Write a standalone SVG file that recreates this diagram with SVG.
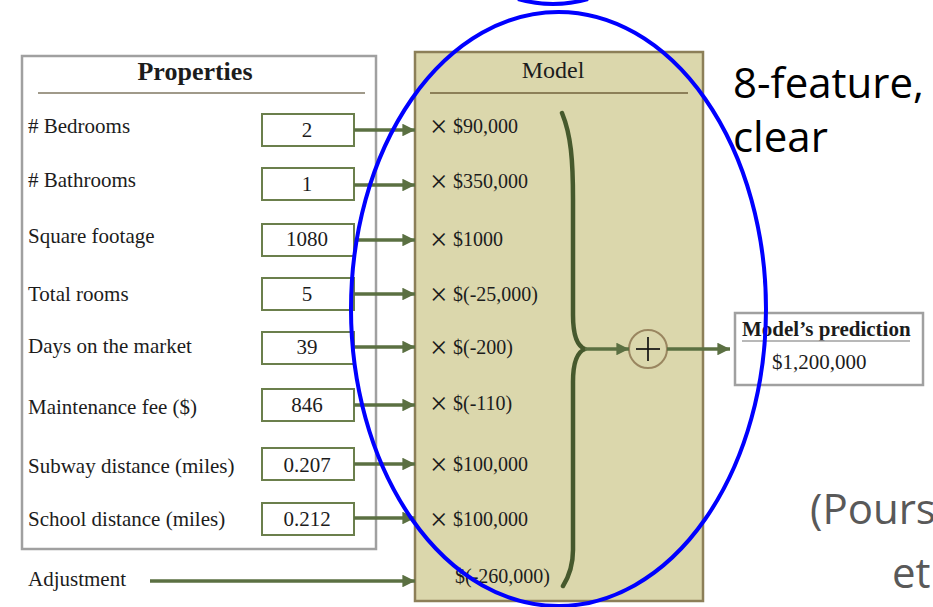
<svg xmlns="http://www.w3.org/2000/svg" width="933" height="607" viewBox="0 0 933 607">
  <style>
    .lbl { font-family: "Liberation Serif", "DejaVu Serif", serif; font-size: 21px; fill: #1c1c1c; }
    .val { font-family: "Liberation Serif", "DejaVu Serif", serif; font-size: 21px; fill: #1c1c1c; text-anchor: middle; }
    .mul { font-family: "Liberation Serif", "DejaVu Serif", serif; font-size: 20px; fill: #1c1c1c; }
    .x { font-size: 31px; }
    .ttl { font-family: "Liberation Serif", "DejaVu Serif", serif; font-size: 26px; font-weight: bold; fill: #1c1c1c; }
    .vbox { fill: #ffffff; stroke: #6b7f4c; stroke-width: 2; }
    .arr { stroke: #5b7042; stroke-width: 3.5; fill: none; marker-end: url(#ah); }
    .slide { font-family: "Open Sans", "Liberation Sans", sans-serif; font-size: 42px; }
  </style>
  <defs>
    <marker id="ah" viewBox="0 0 10 10" refX="10" refY="5" markerWidth="4" markerHeight="3.6" orient="auto" markerUnits="strokeWidth">
      <path d="M0,0 L10,5 L0,10 Z" fill="#5b7042"/>
    </marker>
  </defs>

  <rect width="933" height="607" fill="#ffffff"/>

  <!-- Input panel -->
  <g id="properties">
    <rect x="22" y="56" width="354" height="493" fill="#ffffff" stroke="#a0a0a0" stroke-width="2.5"/>
    <text class="ttl" x="195" y="80" text-anchor="middle">Properties</text>
    <line x1="38" y1="93" x2="365" y2="93" stroke="#a09a8a" stroke-width="2"/>
  </g>

  <g id="bedrooms">
    <text class="lbl" x="28" y="133"># Bedrooms</text>
    <rect class="vbox" x="262" y="114" width="92" height="32"/>
    <text class="val" x="307" y="137">2</text>
  </g>
  <g id="bathrooms">
    <text class="lbl" x="28" y="187"># Bathrooms</text>
    <rect class="vbox" x="262" y="168" width="92" height="32"/>
    <text class="val" x="307" y="191">1</text>
  </g>
  <g id="square-footage">
    <text class="lbl" x="28" y="243">Square footage</text>
    <rect class="vbox" x="262" y="224" width="92" height="32"/>
    <text class="val" x="307" y="246">1080</text>
  </g>
  <g id="total-rooms">
    <text class="lbl" x="28" y="301">Total rooms</text>
    <rect class="vbox" x="262" y="278" width="92" height="32"/>
    <text class="val" x="307" y="301">5</text>
  </g>
  <g id="days-on-market">
    <text class="lbl" x="28" y="353">Days on the market</text>
    <rect class="vbox" x="262" y="332" width="92" height="32"/>
    <text class="val" x="307" y="354">39</text>
  </g>
  <g id="maintenance-fee">
    <text class="lbl" x="28" y="414">Maintenance fee ($)</text>
    <rect class="vbox" x="262" y="389" width="92" height="32"/>
    <text class="val" x="307" y="412">846</text>
  </g>
  <g id="subway-distance">
    <text class="lbl" x="28" y="473">Subway distance (miles)</text>
    <rect class="vbox" x="262" y="448" width="92" height="32"/>
    <text class="val" x="307" y="472">0.207</text>
  </g>
  <g id="school-distance">
    <text class="lbl" x="28" y="526">School distance (miles)</text>
    <rect class="vbox" x="262" y="503" width="92" height="32"/>
    <text class="val" x="307" y="526">0.212</text>
  </g>
  <g id="adjustment">
    <text class="lbl" x="28" y="586">Adjustment</text>
  </g>

  <!-- Weights panel -->
  <g id="model">
    <rect x="415" y="52" width="288" height="549" fill="#dbd7ac" stroke="#8c7f58" stroke-width="2.5"/>
    <text x="553" y="78" text-anchor="middle" font-family="Liberation Serif, DejaVu Serif, serif" font-size="24" fill="#1c1c1c">Model</text>
    <line x1="430" y1="93" x2="688" y2="93" stroke="#8c7f58" stroke-width="2"/>
    <text class="mul" x="430" y="133"><tspan class="x" dy="4">×</tspan><tspan dy="-4" x="453">$90,000</tspan></text>
    <text class="mul" x="430" y="188"><tspan class="x" dy="4">×</tspan><tspan dy="-4" x="453">$350,000</tspan></text>
    <text class="mul" x="430" y="246"><tspan class="x" dy="4">×</tspan><tspan dy="-4" x="453">$1000</tspan></text>
    <text class="mul" x="430" y="301"><tspan class="x" dy="4">×</tspan><tspan dy="-4" x="453">$(-25,000)</tspan></text>
    <text class="mul" x="430" y="354"><tspan class="x" dy="4">×</tspan><tspan dy="-4" x="453">$(-200)</tspan></text>
    <text class="mul" x="430" y="410"><tspan class="x" dy="4">×</tspan><tspan dy="-4" x="453">$(-110)</tspan></text>
    <text class="mul" x="430" y="471"><tspan class="x" dy="4">×</tspan><tspan dy="-4" x="453">$100,000</tspan></text>
    <text class="mul" x="430" y="526"><tspan class="x" dy="4">×</tspan><tspan dy="-4" x="453">$100,000</tspan></text>
    <text class="mul" x="455" y="583">$(-260,000)</text>
  </g>

  <g id="sum">
    <circle cx="648" cy="349" r="19" fill="#dbd7ac" stroke="#9a8660" stroke-width="2"/>
    <line x1="636" y1="349" x2="660" y2="349" stroke="#111" stroke-width="1.7"/>
    <line x1="648" y1="337" x2="648" y2="361" stroke="#111" stroke-width="1.7"/>
  </g>

  <g id="prediction">
    <rect x="735" y="313" width="188" height="72" fill="#ffffff" stroke="#a0a0a0" stroke-width="2.5"/>
    <text x="742" y="336" font-family="Liberation Serif, DejaVu Serif, serif" font-size="21" font-weight="bold" fill="#1c1c1c">Model’s prediction</text>
    <line x1="742" y1="341" x2="910" y2="341" stroke="#a0a0a0" stroke-width="1.5"/>
    <text x="772" y="369" font-family="Liberation Serif, DejaVu Serif, serif" font-size="21" fill="#1c1c1c">$1,200,000</text>
  </g>

  <!-- Connectors -->
  <g id="connectors">
    <line class="arr" x1="354" y1="130" x2="415" y2="130"/>
    <line class="arr" x1="354" y1="185" x2="415" y2="185"/>
    <line class="arr" x1="354" y1="240" x2="415" y2="240"/>
    <line class="arr" x1="354" y1="294" x2="415" y2="294"/>
    <line class="arr" x1="354" y1="347" x2="415" y2="347"/>
    <line class="arr" x1="354" y1="405" x2="415" y2="405"/>
    <line class="arr" x1="354" y1="464" x2="415" y2="464"/>
    <line class="arr" x1="354" y1="518" x2="415" y2="518"/>
    <line class="arr" x1="150" y1="581" x2="415" y2="581"/>
    <path d="M562,113 C571,135 573,160 573,200 L573,315 C573,336 577,346 585,349 C577,352 573,363 573,382 L573,550 C573,566 568,578 563,586" fill="none" stroke="#46592d" stroke-width="4.5" stroke-linecap="round" stroke-linejoin="round"/>
    <line class="arr" x1="585" y1="349" x2="629" y2="349"/>
    <line class="arr" x1="667" y1="349" x2="730" y2="349"/>
  </g>

  <!-- Slide text, running past the right edge of the slide -->
  <text class="slide" x="733" y="98" fill="#000000">8-feature,</text>
  <text class="slide" x="733" y="152" fill="#000000">clear</text>
  <text class="slide" x="810" y="524" fill="#595959">(Pours</text>
  <text class="slide" x="892" y="588" fill="#595959">et</text>

  <!-- Highlight ellipses -->
  <ellipse cx="558.5" cy="309" rx="207.5" ry="297" fill="none" stroke="#0000ff" stroke-width="4"/>
  <path d="M518,-1 Q553,9 588,-1" fill="none" stroke="#0000ff" stroke-width="4"/>
</svg>
